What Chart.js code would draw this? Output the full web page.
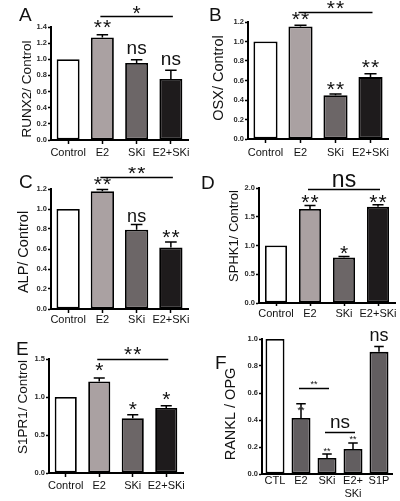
<!DOCTYPE html>
<html><head><meta charset="utf-8">
<script src="https://cdn.jsdelivr.net/npm/chart.js@4.4.1/dist/chart.umd.min.js"></script>
<style>
html,body{margin:0;padding:0;background:#fff;}
#wrap{position:relative;width:400px;height:501px;overflow:hidden;background:#fff;}
#wrap canvas{position:absolute;}
</style></head><body><div id="wrap"></div>
<script>
// ---- data ----
const groups4 = ['Control', 'E2', 'SKi', 'E2+SKi'];
const groupsF = ['CTL', 'E2', 'SKi', ['E2+', 'SKi'], 'S1P'];

const runx2 = [1.0, 1.27, 0.955, 0.755];
const runx2Err = [0, 0.035, 0.04, 0.11];
const osx = [1.0, 1.155, 0.45, 0.635];
const osxErr = [0, 0.012, 0.012, 0.035];
const alp = [1.0, 1.178, 0.793, 0.615];
const alpErr = [0, 0.018, 0.052, 0.055];
const sphk1 = [1.0, 1.635, 0.79, 1.672];
const sphk1Err = [0, 0.06, 0.02, 0.035];
const s1pr1 = [1.0, 1.205, 0.72, 0.855];
const s1pr1Err = [0, 0.045, 0.045, 0.03];
const ranklOpg = [1.0, 0.415, 0.118, 0.185, 0.905];
const ranklOpgErr = [0, 0.105, 0.03, 0.045, 0.04];

const ticksA = [0.0, 0.2, 0.4, 0.6, 0.8, 1.0, 1.2, 1.4];
const ticksB = [0.0, 0.2, 0.4, 0.6, 0.8, 1.0, 1.2];
const ticksC = [0.0, 0.2, 0.4, 0.6, 0.8, 1.0, 1.2];
const ticksD = [0.0, 0.5, 1.0, 1.5, 2.0];
const ticksE = [0.0, 0.5, 1.0, 1.5];
const ticksF = [0.0, 0.2, 0.4, 0.6, 0.8, 1.0];

const marksA = ['', '**', 'ns', 'ns'];
const marksB = ['', '**', '**', '**'];
const marksC = ['', '**', 'ns', '**'];
const marksD = ['', '**', '*', '**'];
const marksE = ['', '*', '*', '*'];
const marksF = ['', '**', '**', '**', 'ns'];

// ---- styles / layout ----
const FAM = '"Liberation Sans", Arial, Helvetica, sans-serif';
const fills4 = ['#ffffff', '#aaa1a2', '#6c6667', '#1e1b1c'];
const fillsF = ['#ffffff', '#625e60', '#625e60', '#625e60', '#625e60'];

const panels = [
  {letter:'A', box:[0,0,200,167], area:[51,188,27,140], labels:groups4, values:runx2, errors:runx2Err, ticks:ticksA,
   title:'RUNX2/ Control', titleAt:[27.5,89,13.5], letterAt:[19,21], barPct:0.67, fills:fills4, xTick:4, xPad:2.4,
   marks:marksA, markLv:[0,1.425,1.124,0.99], markSize:[0,21,19,19], brackets:[[1,3,1.54,'*',1.6,21]]},
  {letter:'B', box:[200,0,200,167], area:[248,388,22,139], labels:groups4, values:osx, errors:osxErr, ticks:ticksB,
   title:'OSX/ Control', titleAt:[219,78,14.5], letterAt:[209,21], barPct:0.69, fills:fills4, xTick:4, xPad:3.4,
   marks:marksB, markLv:[0,1.254,0.538,0.76], markSize:[0,21,21,21], brackets:[[1,3,1.30,'**',1.37,21]]},
  {letter:'C', box:[0,167,200,167], area:[51,188,189,309], labels:groups4, values:alp, errors:alpErr, ticks:ticksC,
   title:'ALP/ Control', titleAt:[24,252,14.5], letterAt:[19,188], barPct:0.68, fills:fills4, xTick:4, xPad:0.5,
   marks:marksC, markLv:[0,1.273,0.92,0.738], markSize:[0,21,18,21], brackets:[[1,3,1.324,'**',1.38,21]]},
  {letter:'D', box:[200,167,200,167], area:[259,395,188,303], labels:groups4, values:sphk1, errors:sphk1Err, ticks:ticksD,
   title:'SPHK1/ Control', titleAt:[234,236,13], letterAt:[201,189], barPct:0.65, fills:fills4, xTick:3, xPad:1.4,
   marks:marksD, markLv:[0,1.796,0.90,1.796], markSize:[0,21,21,21], brackets:[[1,3,1.977,'ns',2.12,23]]},
  {letter:'E', box:[0,334,200,167], area:[49,183,359,473], labels:groups4, values:s1pr1, errors:s1pr1Err, ticks:ticksE,
   title:'S1PR1/ Control', titleAt:[23.5,407,13.5], letterAt:[16,355], barPct:0.66, fills:fills4, xTick:4, xPad:2,
   marks:marksE, markLv:[0,1.39,0.866,0.997], markSize:[0,21,21,21], brackets:[[1,3,1.5,'**',1.59,21]]},
  {letter:'F', box:[200,320,200,181], area:[262,392,339,474], labels:groupsF, values:ranklOpg, errors:ranklOpgErr, ticks:ticksF,
   title:'RANKL / OPG', titleAt:[231,414,14.5], letterAt:[215,369], barPct:0.73, fills:fillsF, xTick:0, xPad:0,
   marks:marksF, markLv:[0,0.48,0.175,0.267,1.017], markSize:[0,9,9,9,18], capW:9.5,
   brackets:[[1,2,0.64,'**',0.674,9],[2,3,0.311,'ns',0.378,19]]}
];

function drawMark(ctx, text, x, cy, size) {
  const star = /^\*+$/.test(text);
  ctx.save();
  ctx.font = size + 'px ' + FAM;
  ctx.textAlign = 'center';
  ctx.textBaseline = 'alphabetic';
  ctx.fillStyle = '#111';
  let dx = 0;
  if (star && text.length > 1 && size > 12) {
    ctx.letterSpacing = '1px';
    dx = 0.5;
  }
  ctx.fillText(text, x + dx, cy + (star ? 0.44 : 0.26) * size);
  ctx.restore();
}

const deco = {
  id: 'deco',
  afterDatasetsDraw(chart) {
    const p = chart.options.plugins.deco.panel;
    const ctx = chart.ctx;
    const ys = chart.scales.y;
    const bars = chart.getDatasetMeta(0).data;
    ctx.save();
    // error bars (upper only)
    ctx.strokeStyle = '#000';
    ctx.lineWidth = 1.5;
    bars.forEach((bar, i) => {
      const e = p.errors[i];
      if (!e) return;
      const top = ys.getPixelForValue(p.values[i] + e);
      const cw = p.capW || bar.width * 0.5;
      ctx.beginPath();
      ctx.moveTo(bar.x, bar.y);
      ctx.lineTo(bar.x, top);
      ctx.moveTo(bar.x - cw / 2, top);
      ctx.lineTo(bar.x + cw / 2, top);
      ctx.stroke();
    });
    // significance marks
    p.marks.forEach((m, i) => {
      if (!m) return;
      drawMark(ctx, m, bars[i].x, ys.getPixelForValue(p.markLv[i]), p.markSize[i]);
    });
    // brackets
    p.brackets.forEach(([a, b, lv, txt, tlv, sz]) => {
      const y = Math.round(ys.getPixelForValue(lv)) + 0.5;
      ctx.strokeStyle = '#000';
      ctx.lineWidth = 1.5;
      ctx.beginPath();
      ctx.moveTo(bars[a].x - 2, y);
      ctx.lineTo(bars[b].x + 2, y);
      ctx.stroke();
      drawMark(ctx, txt, (bars[a].x + bars[b].x) / 2, ys.getPixelForValue(tlv), sz);
    });
    // y title
    const [tx, ty, ts] = p.titleAt;
    ctx.translate(tx - p.box[0], ty - p.box[1]);
    ctx.rotate(-Math.PI / 2);
    ctx.font = ts + 'px ' + FAM;
    ctx.fillStyle = '#111';
    ctx.textAlign = 'center';
    ctx.textBaseline = 'middle';
    ctx.fillText(p.title, 0, 0);
    ctx.restore();
    // panel letter
    ctx.save();
    ctx.font = '19px ' + FAM;
    ctx.fillStyle = '#111';
    ctx.textAlign = 'left';
    ctx.textBaseline = 'alphabetic';
    ctx.fillText(p.letter, p.letterAt[0] - p.box[0], p.letterAt[1] - p.box[1]);
    ctx.restore();
  }
};

const wrap = document.getElementById('wrap');
panels.forEach(p => {
  const [bx, by, bw, bh] = p.box;
  const [l, r, t, b] = p.area;
  const cv = document.createElement('canvas');
  cv.width = bw; cv.height = bh;
  cv.style.left = bx + 'px'; cv.style.top = by + 'px';
  cv.style.width = bw + 'px'; cv.style.height = bh + 'px';
  wrap.appendChild(cv);
  new Chart(cv, {
    type: 'bar',
    data: {
      labels: p.labels,
      datasets: [{
        data: p.values,
        backgroundColor: p.fills,
        borderColor: '#000',
        borderWidth: 1.8,
        borderSkipped: false,
        barPercentage: p.barPct,
        categoryPercentage: 1
      }]
    },
    options: {
      responsive: false,
      animation: false,
      devicePixelRatio: 1,
      layout: {padding: {left: 0, top: t - by, right: bx + bw - r, bottom: 0}},
      plugins: {legend: {display: false}, tooltip: {enabled: false}, title: {display: false}, deco: {panel: p}},
      scales: {
        x: {
          type: 'category',
          offset: true,
          grid: {display: true, drawOnChartArea: false, offset: false, drawTicks: p.xTick > 0,
                 tickLength: p.xTick, tickWidth: 1.5, tickColor: '#000'},
          border: {display: true, color: '#000', width: 2},
          ticks: {color: '#111', font: {family: FAM, size: 11}, padding: p.xPad,
                  maxRotation: 0, minRotation: 0, autoSkip: false},
          afterFit: s => { s.height = by + bh - b; }
        },
        y: {
          min: 0,
          max: p.ticks[p.ticks.length - 1],
          grid: {display: true, drawOnChartArea: false, drawTicks: true, tickLength: 3, tickWidth: 1.5, tickColor: '#000'},
          border: {display: true, color: '#000', width: 2},
          ticks: {color: '#2a2a2a', font: {family: FAM, size: 7.5, weight: 'bold'}, padding: 1,
                  callback: v => Number(v).toFixed(1)},
          afterBuildTicks: s => { s.ticks = p.ticks.map(v => ({value: v})); },
          afterFit: s => { s.width = l - bx; }
        }
      }
    },
    plugins: [deco]
  });
});
</script>
</body></html>
